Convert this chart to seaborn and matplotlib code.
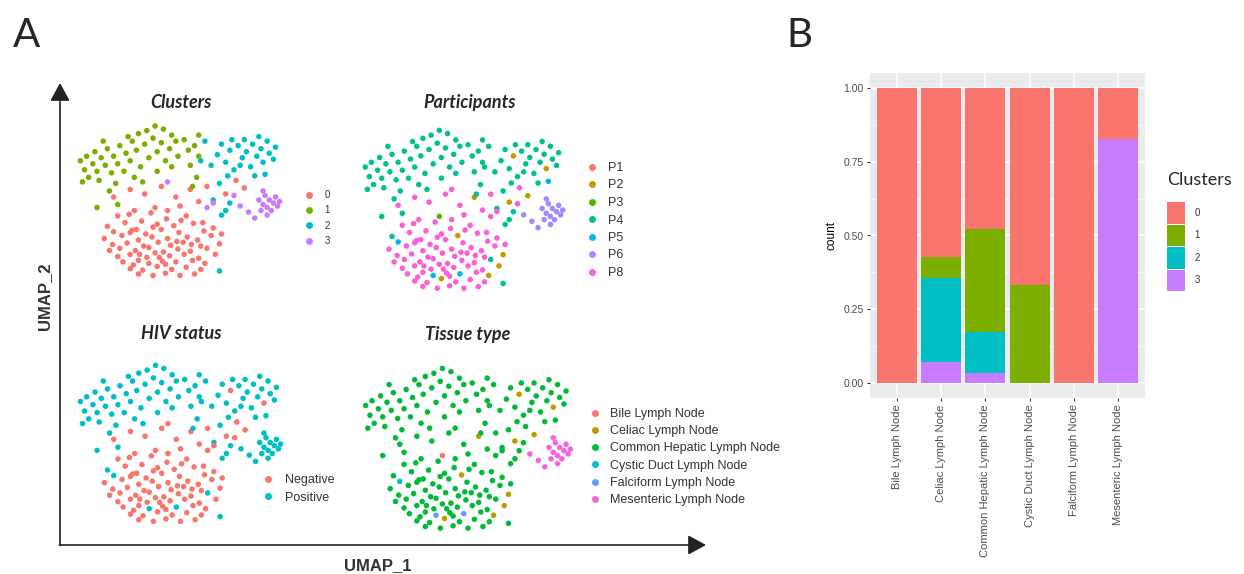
import numpy as np
import pandas as pd
import seaborn as sns
import matplotlib.pyplot as plt
from matplotlib.lines import Line2D
from matplotlib.patches import Patch

### UMAP embedding (arbitrary units, 0-10), one list per cluster
c0_x = [1.8, 2.6, 3.3, 4.1, 4.8, 5.5, 5.0, 3.8, 2.8, 6.3, 7.7, 8.1, 7.2, 5.9, 4.4,
        2.0, 3.15, 3.6, 4.35, 5.3, 6.1, 2.55,
        1.5, 2.35, 2.9, 3.9, 4.7, 5.65, 6.6, 5.05,
        1.8, 2.7, 3.35, 4.1, 4.95, 5.35, 6.15, 7.0, 3.7,
        1.35, 2.2, 3.0, 3.65, 4.4, 5.85, 6.5, 4.85, 2.6,
        1.75, 2.45, 3.25, 3.95, 4.55, 5.15, 6.0, 6.9, 5.55,
        1.6, 2.1, 2.85, 3.5, 4.2, 4.9, 5.5, 6.3, 3.05,
        2.0, 2.6, 3.4, 3.8, 4.5, 5.2, 5.9, 6.7, 4.0,
        2.25, 3.0, 3.5, 4.15, 4.8, 5.6, 6.2, 2.75,
        2.6, 3.2, 3.9, 4.6, 5.3, 6.0, 4.3,
        3.0, 3.7, 4.3, 5.0, 5.7]
c0_y = [5.2, 5.7, 5.4, 5.9, 5.2, 5.7, 4.6, 4.5, 4.3, 5.9, 6.3, 5.8, 5.4, 4.9, 4.3,
        3.95, 3.6, 4.15, 3.75, 3.95, 3.5, 4.05,
        3.25, 3.5, 3.05, 3.4, 3.3, 3.45, 3.15, 3.65,
        2.9, 3.0, 2.75, 3.05, 2.85, 2.55, 2.95, 2.75, 3.2,
        2.45, 2.65, 2.35, 2.55, 2.45, 2.35, 2.65, 2.25, 2.85,
        2.05, 2.15, 1.95, 2.2, 2.0, 2.2, 1.95, 2.1, 2.05,
        1.65, 1.8, 1.65, 1.85, 1.55, 1.75, 1.6, 1.8, 1.4,
        1.25, 1.4, 1.2, 1.5, 1.3, 1.4, 1.15, 1.4, 1.2,
        0.9, 1.0, 0.8, 0.95, 0.9, 1.0, 0.8, 0.7,
        0.45, 0.35, 0.6, 0.4, 0.55, 0.4, 0.75,
        0.1, 0.0, 0.15, 0.0, 0.1]

c1_x = [0.2, 0.5, 0.8, 0.4, 0.9, 1.2, 1.0, 1.5, 1.4, 1.8, 1.7, 2.1, 2.0, 2.4, 2.3, 2.7,
        2.6, 3.0, 2.9, 3.1, 3.4, 3.3, 3.5, 3.8, 3.7, 3.9, 4.2, 4.1, 4.3, 4.6, 4.5, 4.8,
        4.9, 5.2, 5.4, 5.7, 5.9, 5.5, 1.1, 1.9, 0.6, 2.8, 3.9, 1.6, 4.6, 0.3, 2.5, 1.3,
        3.2, 5.8, 1.0, 2.0, 5.9, 5.6]
c1_y = [7.6, 7.9, 7.4, 7.0, 8.2, 7.8, 6.9, 8.4, 7.3, 7.9, 6.8, 8.6, 7.4, 8.1, 6.9, 8.9,
        7.6, 9.4, 8.3, 7.2, 9.6, 8.7, 7.8, 9.9, 9.1, 8.2, 9.7, 8.8, 7.6, 9.3, 8.4, 8.9,
        7.9, 9.0, 8.3, 8.6, 7.9, 7.3, 6.3, 6.1, 6.5, 6.5, 6.9, 5.6, 7.2, 6.2, 9.2, 8.9,
        6.2, 6.5, 4.5, 4.7, 9.3, 5.9]

c2_x = [6.2, 6.5, 6.8, 7.0, 7.2, 7.4, 7.6, 7.8, 8.0, 8.2, 8.4, 8.5, 8.7, 8.9, 9.0, 9.2,
        9.3, 9.5, 9.1, 8.6, 7.9, 7.3, 6.9, 7.2, 7.0, 7.4, 6.6, 9.6, 8.8, 7.5, 6.0, 8.1,
        6.9]
c2_y = [8.9, 7.3, 8.0, 8.7, 7.5, 8.3, 7.0, 8.6, 7.8, 8.2, 7.2, 8.7, 7.9, 8.4, 7.5, 8.9,
        8.1, 7.7, 6.7, 6.6, 7.3, 6.6, 6.1, 4.3, 4.0, 4.8, 5.0, 8.5, 9.2, 9.0, 7.6, 9.0,
        0.3]

c3_x = [8.8, 9.0, 9.1, 9.2, 9.3, 9.4, 9.5, 9.6, 9.7, 9.8, 9.2, 8.9, 9.0, 8.6, 8.3, 7.9,
        6.6, 6.3, 7.6, 4.4]
c3_y = [5.0, 4.7, 5.3, 4.5, 5.0, 4.3, 4.8, 5.2, 4.6, 4.9, 4.0, 4.3, 5.6, 3.8, 4.2, 4.6,
        4.8, 4.5, 5.3, 6.2]

### participant of each cell: cluster default plus the odd ones out
participant_default = {"0": "P8", "1": "P4", "2": "P4", "3": "P6"}
participant_other = [(7.4, 8.3, "P2"), (9.0, 7.5, "P2"), (8.1, 5.8, "P2"), (5.5, 5.7, "P2"),
                     (7.2, 5.4, "P2"), (4.7, 3.3, "P2"), (3.9, 0.6, "P2"), (6.2, 0.8, "P2"),
                     (6.7, 1.4, "P2"), (6.9, 2.1, "P2"),
                     (1.8, 2.9, "P5"), (3.5, 0.8, "P5"), (4.8, 0.9, "P5"), (9.1, 6.7, "P5"),
                     (3.8, 4.5, "P3"),
                     (1.5, 3.25, "P4"), (6.3, 1.8, "P4"),
                     (6.6, 4.8, "P8"), (6.3, 4.5, "P8"), (4.4, 6.2, "P8"), (7.6, 5.3, "P8")]
hiv_by_participant = {"P1": "Negative", "P2": "Negative", "P3": "Negative", "P4": "Positive",
                      "P5": "Positive", "P6": "Positive", "P8": "Negative"}
tissue_by_participant = {"P1": "Bile Lymph Node", "P2": "Celiac Lymph Node",
                         "P3": "Bile Lymph Node", "P4": "Common Hepatic Lymph Node",
                         "P5": "Falciform Lymph Node", "P6": "Mesenteric Lymph Node",
                         "P8": "Common Hepatic Lymph Node"}
tissue_other = [(1.8, 2.9, "Cystic Duct Lymph Node"), (9.1, 6.7, "Common Hepatic Lymph Node")]

clusters = ["0", "1", "2", "3"]
participants = ["P1", "P2", "P3", "P4", "P5", "P6", "P8"]
hiv = ["Negative", "Positive"]
tissues = ["Bile Lymph Node", "Celiac Lymph Node", "Common Hepatic Lymph Node",
           "Cystic Duct Lymph Node", "Falciform Lymph Node", "Mesenteric Lymph Node"]

### panel B: cluster fraction per tissue
frac_0 = [1.0, 0.571, 0.477, 0.667, 1.0, 0.172]
frac_1 = [0.0, 0.071, 0.349, 0.333, 0.0, 0.0]
frac_2 = [0.0, 0.286, 0.141, 0.0, 0.0, 0.0]
frac_3 = [0.0, 0.071, 0.033, 0.0, 0.0, 0.828]

pal_clusters = dict(zip(clusters, ["#F8766D", "#7CAE00", "#00BFC4", "#C77CFF"]))
pal_part = dict(zip(participants, ["#F8766D", "#C49A00", "#53B400", "#00C094",
                                   "#00B6EB", "#A58AFF", "#FB61D7"]))
pal_hiv = dict(zip(hiv, ["#F8766D", "#00BFC4"]))
pal_tissue = dict(zip(tissues, ["#F8766D", "#B79F00", "#00BA38", "#00BFC4",
                                "#619CFF", "#F564E3"]))

### build the cell table
parts = []
for cl, xs, ys in [("0", c0_x, c0_y), ("1", c1_x, c1_y), ("2", c2_x, c2_y), ("3", c3_x, c3_y)]:
    parts.append(pd.DataFrame({"x": xs, "y": ys, "cluster": cl}))
df = pd.concat(parts, ignore_index=True)
df["participant"] = df["cluster"].map(participant_default)
for x, y, p in participant_other:
    df.loc[np.isclose(df.x, x) & np.isclose(df.y, y), "participant"] = p
df["hiv"] = df["participant"].map(hiv_by_participant)
df["tissue"] = df["participant"].map(tissue_by_participant)
for x, y, t in tissue_other:
    df.loc[np.isclose(df.x, x) & np.isclose(df.y, y), "tissue"] = t

sns.set_theme(style="white")
plt.rcParams['font.family'] = ['Liberation Sans', 'DejaVu Sans']

W, H = 1244, 574
fig = plt.figure(figsize=(W / 100, H / 100), dpi=100)


def box(l, t, r, b):
    return [l / W, 1 - b / H, (r - l) / W, (b - t) / H]


# big UMAP arrows of panel A
ov = fig.add_axes([0, 0, 1, 1])
ov.set_xlim(0, W)
ov.set_ylim(H, 0)
ov.axis("off")
arrow = dict(arrowstyle="-|>,head_length=0.55,head_width=0.3", mutation_scale=20,
             lw=1.2, color="#222222", shrinkA=0, shrinkB=0)
ov.annotate("", xy=(60, 83), xytext=(60, 545.5), arrowprops=arrow)
ov.annotate("", xy=(706, 545), xytext=(59.5, 545), arrowprops=arrow)

title_font = dict(family=["Lato", "DejaVu Sans"], weight="bold", style="italic", size=13)

panels = [
    ("cluster", clusters, pal_clusters, "Clusters", (70, 120, 290, 280), (181, 108),
     dict(x=304, y=190, fs=7, pad=1.1, sp=0.55)),
    ("participant", participants, pal_part, "Participants", (355, 124, 573, 293), (470, 108),
     dict(x=586, y=162, fs=9, pad=0.76, sp=0.44)),
    ("hiv", hiv, pal_hiv, "HIV status", (70, 359, 291, 526), (181, 339),
     dict(x=262, y=474, fs=9, pad=0.84, sp=0.46)),
    ("tissue", tissues, pal_tissue, "Tissue type", (355, 362, 581, 533), (468, 340),
     dict(x=589, y=408, fs=9, pad=0.68, sp=0.42)),
]

for col, levels, pal, title, rect, tpos, leg in panels:
    ax = fig.add_axes(box(*rect))
    sns.scatterplot(data=df, x="x", y="y", hue=col, hue_order=levels, palette=pal,
                    s=16, linewidth=0, legend=False, ax=ax)
    ax.set_xlim(-0.3, 10.3)
    ax.set_ylim(-0.3, 10.3)
    ax.axis("off")
    fig.text(tpos[0] / W, 1 - tpos[1] / H, title, ha="center", va="baseline", **title_font)
    handles = [Line2D([], [], marker="o", ls="", markersize=5, markeredgewidth=0,
                      color=pal[l]) for l in levels]
    fig.legend(handles, levels, loc="upper left", bbox_to_anchor=(leg["x"] / W, 1 - leg["y"] / H),
               frameon=False, borderpad=0, borderaxespad=0, fontsize=leg["fs"],
               handlelength=1, handletextpad=leg["pad"], labelspacing=leg["sp"],
               labelcolor="#333333")

fig.text(45 / W, 1 - 296 / H, "UMAP_2", rotation=90, ha="center", va="center",
         fontsize=12, fontweight="bold", color="#333333")
fig.text(378 / W, 1 - 566 / H, "UMAP_1", ha="center", va="center",
         fontsize=12, fontweight="bold", color="#333333")

letter_font = dict(family=["Lato", "DejaVu Sans"], size=29, va="baseline")
fig.text(13 / W, 1 - 47 / H, "A", **letter_font)
fig.text(786 / W, 1 - 47 / H, "B", **letter_font)

### panel B: stacked proportion bars (ggplot look)
axb = fig.add_axes(box(870, 73, 1145, 398))
axb.set_facecolor("#EBEBEB")
cum = np.array(frac_3)
tops = {"3": cum.copy()}
cum = cum + np.array(frac_2)
tops["2"] = cum.copy()
cum = cum + np.array(frac_1)
tops["1"] = cum.copy()
cum = cum + np.array(frac_0)
tops["0"] = cum.copy()
for cl in clusters:
    sns.barplot(x=tissues, y=tops[cl], order=tissues, color=pal_clusters[cl], width=0.9,
                saturation=1, errorbar=None, linewidth=0, ax=axb)
axb.set_xlim(-0.6, 5.6)
axb.set_ylim(-0.05, 1.05)
axb.set_yticks([0, 0.25, 0.5, 0.75, 1.0])
axb.set_yticklabels(["0.00", "0.25", "0.50", "0.75", "1.00"])
axb.set_yticks([0.125, 0.375, 0.625, 0.875], minor=True)
axb.set_axisbelow(True)
axb.grid(True, which="major", color="white", lw=1.1)
axb.grid(True, which="minor", axis="y", color="white", lw=0.5)
for s in axb.spines.values():
    s.set_visible(False)
axb.tick_params(axis="both", which="major", length=2.5, width=0.8, color="#333333",
                labelsize=7.5, labelcolor="#4D4D4D", pad=2, left=True, bottom=True)
axb.tick_params(axis="x", which="major", labelsize=8)
axb.tick_params(axis="both", which="minor", length=0)
axb.set_xticks(range(len(tissues)))
axb.set_xticklabels(tissues, rotation=90, ha="center", va="top")
axb.set_xlabel("")
axb.set_ylabel("count", fontsize=8.5, color="black", labelpad=4)

fig.text(1167 / W, 1 - 185 / H, "Clusters", family=["Lato", "DejaVu Sans"], size=13,
         va="baseline", ha="left")
bar_handles = [Patch(facecolor=pal_clusters[c], edgecolor="none") for c in clusters]
fig.legend(bar_handles, clusters, loc="upper left",
           bbox_to_anchor=(1167 / W, 1 - 202 / H), frameon=False, borderpad=0,
           borderaxespad=0, fontsize=7, handlelength=1.85, handleheight=3.03,
           labelspacing=0.1, handletextpad=1.0, labelcolor="#333333")

fig.savefig("out.png", dpi=100, facecolor="white")
